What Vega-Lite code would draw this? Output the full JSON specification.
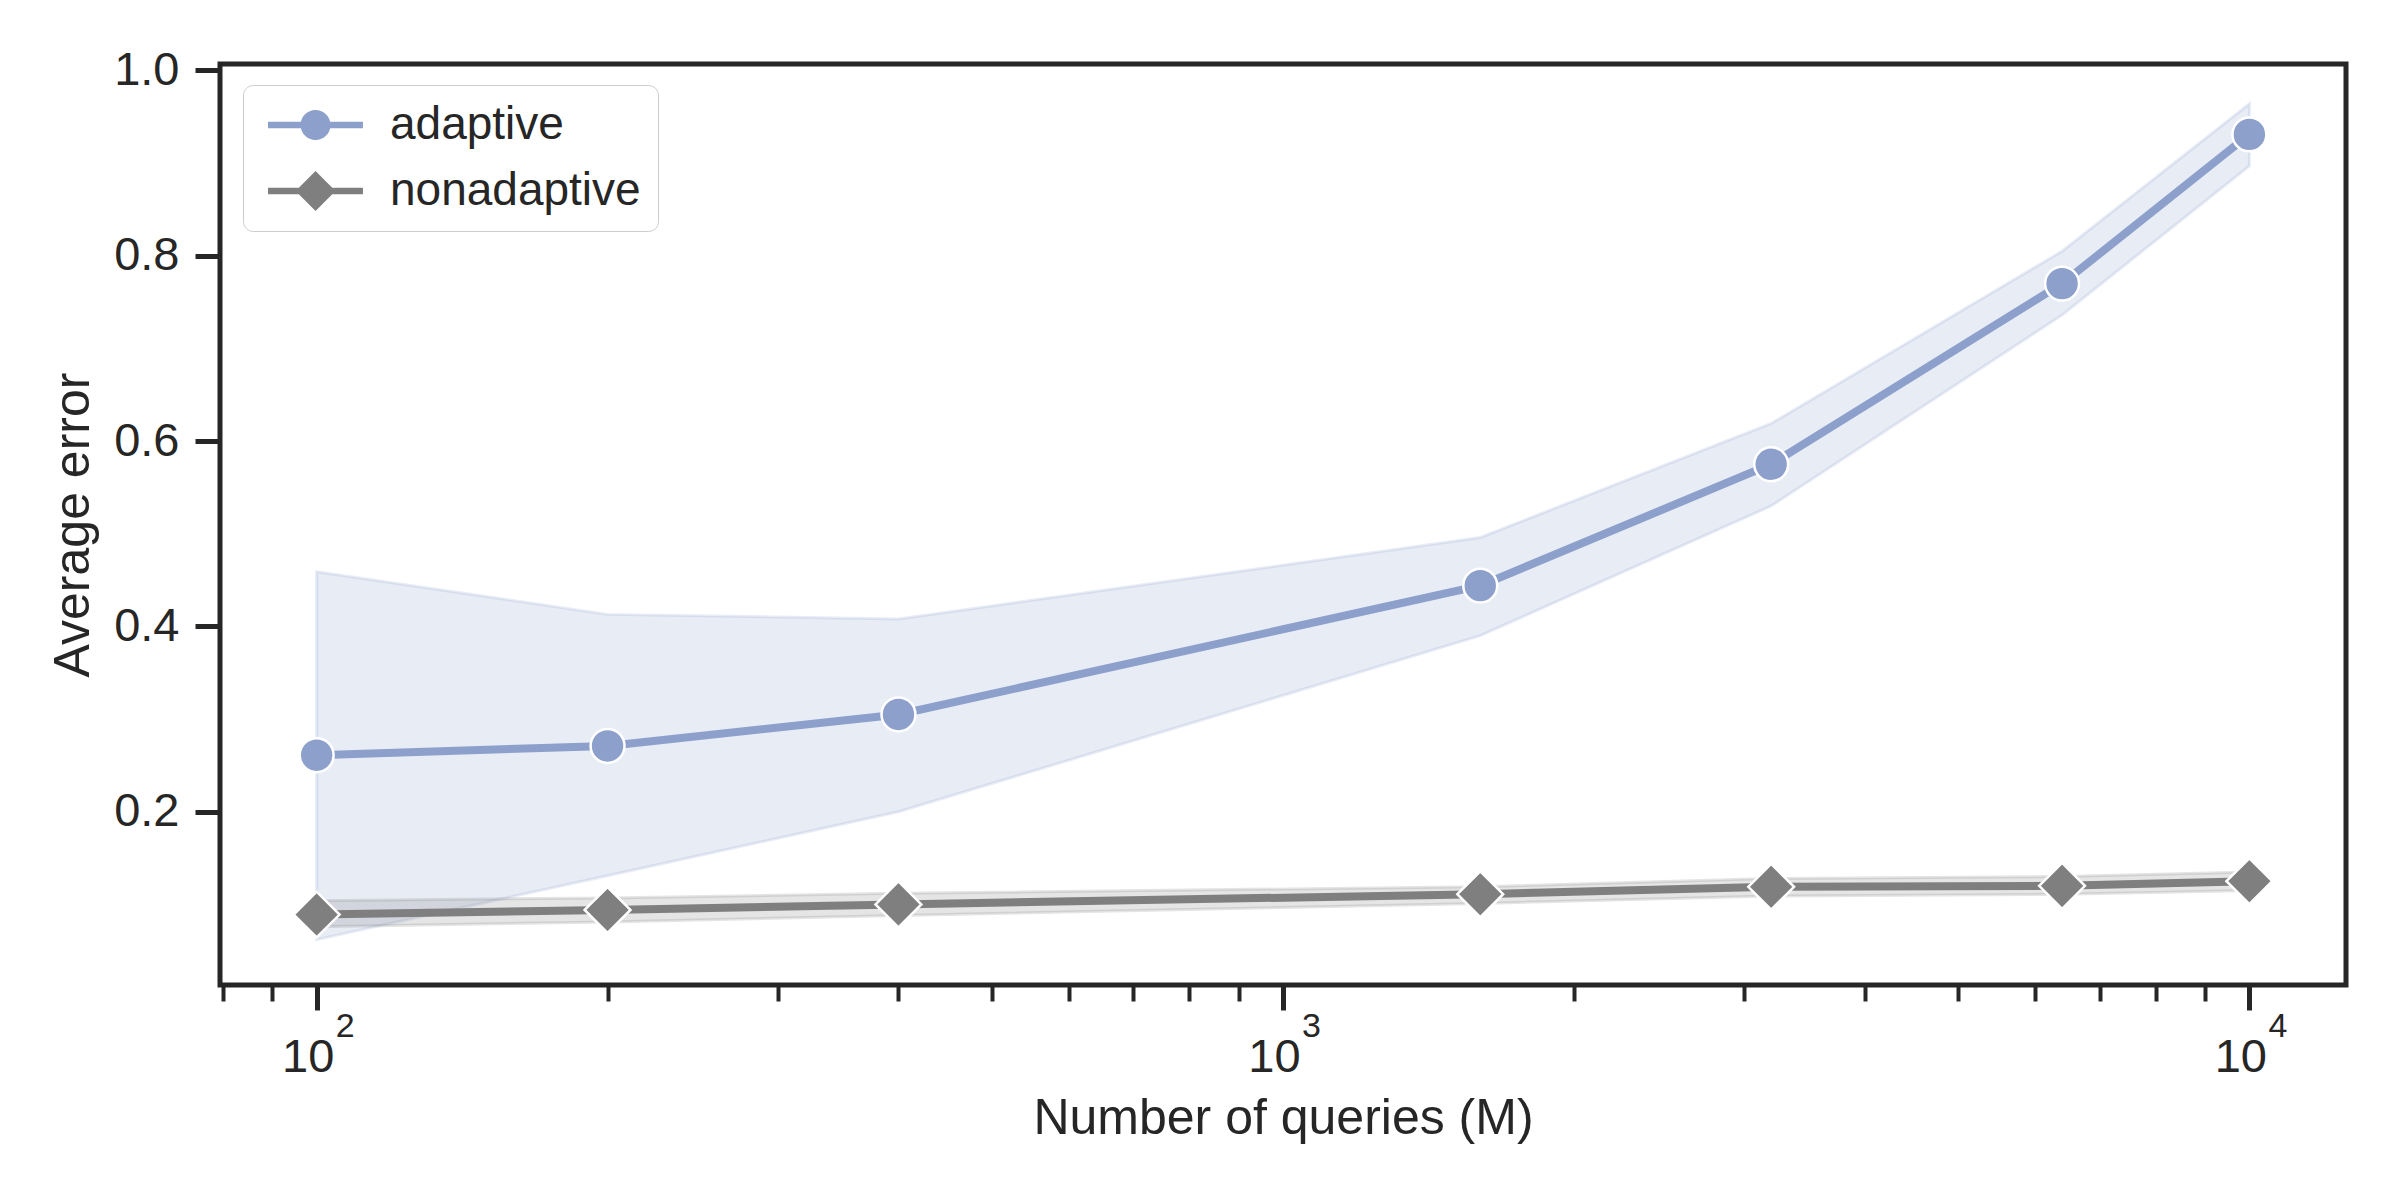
{
  "$schema": "https://vega.github.io/schema/vega-lite/v6.json",
  "width": 2126,
  "height": 921,
  "autosize": {"type": "none"},
  "padding": {"left": 220, "top": 64, "right": 54, "bottom": 215},
  "background": "white",
  "config": {
    "view": {"stroke": "#262626", "strokeWidth": 5},
    "font": "Liberation Sans",
    "axis": {"labelFont": "Liberation Sans", "titleFont": "Liberation Sans", "labelColor": "#262626", "titleColor": "#262626", "tickColor": "#262626", "grid": false, "domain": false, "titleFontWeight": "normal"}
  },
  "data": {
    "values": [
      {"series": "adaptive", "x": 100, "mean": 0.261, "lo": 0.062, "hi": 0.459},
      {"series": "adaptive", "x": 200, "mean": 0.271, "lo": 0.131, "hi": 0.413},
      {"series": "adaptive", "x": 400, "mean": 0.305, "lo": 0.200, "hi": 0.408},
      {"series": "adaptive", "x": 1600, "mean": 0.444, "lo": 0.390, "hi": 0.496},
      {"series": "adaptive", "x": 3200, "mean": 0.575, "lo": 0.530, "hi": 0.619},
      {"series": "adaptive", "x": 6400, "mean": 0.770, "lo": 0.736, "hi": 0.805},
      {"series": "adaptive", "x": 10000, "mean": 0.931, "lo": 0.897, "hi": 0.964},
      {"series": "nonadaptive", "x": 100, "mean": 0.089, "lo": 0.076, "hi": 0.104},
      {"series": "nonadaptive", "x": 200, "mean": 0.094, "lo": 0.081, "hi": 0.107},
      {"series": "nonadaptive", "x": 400, "mean": 0.100, "lo": 0.088, "hi": 0.112},
      {"series": "nonadaptive", "x": 1600, "mean": 0.111, "lo": 0.101, "hi": 0.119},
      {"series": "nonadaptive", "x": 3200, "mean": 0.119, "lo": 0.109, "hi": 0.128},
      {"series": "nonadaptive", "x": 6400, "mean": 0.120, "lo": 0.111, "hi": 0.130},
      {"series": "nonadaptive", "x": 10000, "mean": 0.125, "lo": 0.115, "hi": 0.135}
    ]
  },
  "resolve": {"axis": {"x": "independent", "y": "independent"}},
  "layer": [
    {
      "transform": [{"filter": "datum.series == 'adaptive'"}],
      "mark": {"type": "area", "fill": "#8da0cb", "fillOpacity": 0.2, "stroke": "#8da0cb", "strokeOpacity": 0.2, "strokeWidth": 3},
      "encoding": {
        "x": {
          "field": "x", "type": "quantitative",
          "scale": {"type": "log", "domain": [79.43, 12589], "nice": false},
          "axis": {
            "orient": "bottom",
            "title": "Number of queries (M)",
            "titleFontSize": 50,
            "titlePadding": 13,
            "values": [100, 1000, 10000],
            "labelExpr": "'10'",
            "tickSize": 25,
            "tickWidth": 5,
            "labelFontSize": 47,
            "labelOffset": -9,
            "labelPadding": 24,
            "labelOverlap": false,
            "labelFlush": false,
            "labelBound": false
          }
        },
        "y": {
          "field": "lo", "type": "quantitative",
          "scale": {"domain": [0.013, 1.007], "nice": false, "zero": false},
          "axis": {
            "orient": "left",
            "title": "Average error",
            "titleFontSize": 50,
            "titlePadding": 15,
            "values": [0.2, 0.4, 0.6, 0.8, 1.0],
            "format": ".1f",
            "tickSize": 25,
            "tickWidth": 5,
            "labelPadding": 16,
            "labelFontSize": 47
          }
        },
        "y2": {"field": "hi"}
      }
    },
    {
      "transform": [{"filter": "datum.series == 'nonadaptive'"}],
      "mark": {"type": "area", "fill": "#7f7f7f", "fillOpacity": 0.2, "stroke": "#7f7f7f", "strokeOpacity": 0.2, "strokeWidth": 3},
      "encoding": {
        "x": {"field": "x", "type": "quantitative", "axis": null},
        "y": {"field": "lo", "type": "quantitative", "axis": null},
        "y2": {"field": "hi"}
      }
    },
    {
      "transform": [{"filter": "datum.series == 'adaptive'"}],
      "mark": {"type": "line", "stroke": "#8da0cb", "strokeWidth": 8},
      "encoding": {
        "x": {
          "field": "x", "type": "quantitative",
          "axis": {
            "orient": "bottom",
            "title": null,
            "values": [100, 1000, 10000],
            "labelExpr": "datum.value == 100 ? '2' : (datum.value == 1000 ? '3' : '4')",
            "ticks": false,
            "labelFontSize": 34,
            "labelOffset": 28,
            "labelPadding": 24,
            "labelOverlap": false,
            "labelFlush": false,
            "labelBound": false
          }
        },
        "y": {"field": "mean", "type": "quantitative", "axis": null}
      }
    },
    {
      "transform": [{"filter": "datum.series == 'nonadaptive'"}],
      "mark": {"type": "line", "stroke": "#7f7f7f", "strokeWidth": 8},
      "encoding": {
        "x": {"field": "x", "type": "quantitative", "axis": null},
        "y": {"field": "mean", "type": "quantitative", "axis": null}
      }
    },
    {
      "transform": [{"filter": "datum.series == 'adaptive'"}],
      "mark": {"type": "point", "shape": "circle", "filled": true, "fill": "#8da0cb", "size": 1150, "stroke": "white", "strokeWidth": 2.5, "opacity": 1},
      "encoding": {
        "x": {
          "field": "x", "type": "quantitative",
          "axis": {
            "orient": "bottom",
            "title": null,
            "values": [80, 90, 200, 300, 400, 500, 600, 700, 800, 900, 2000, 3000, 4000, 5000, 6000, 7000, 8000, 9000],
            "labels": false,
            "tickSize": 16,
            "tickWidth": 4
          }
        },
        "y": {"field": "mean", "type": "quantitative", "axis": null}
      }
    },
    {
      "transform": [{"filter": "datum.series == 'nonadaptive'"}],
      "mark": {"type": "point", "shape": "diamond", "filled": true, "fill": "#7f7f7f", "size": 2100, "stroke": "white", "strokeWidth": 2.5, "opacity": 1},
      "encoding": {
        "x": {"field": "x", "type": "quantitative", "axis": null},
        "y": {"field": "mean", "type": "quantitative", "axis": null}
      }
    },
    {
      "transform": [{"filter": "datum.series == 'none'"}],
      "mark": {"type": "point", "filled": true, "size": 900, "strokeWidth": 0, "opacity": 1},
      "encoding": {
        "x": {"field": "x", "type": "quantitative", "axis": null},
        "y": {"field": "mean", "type": "quantitative", "axis": null},
        "fill": {
          "field": "series", "type": "nominal",
          "scale": {"domain": ["adaptive", "nonadaptive"], "range": ["#8da0cb", "#7f7f7f"]},
          "legend": {
            "title": null, "orient": "none", "legendX": 23, "legendY": 21,
            "labelFont": "Liberation Sans", "labelFontSize": 46, "labelColor": "#262626", "labelLimit": 500,
            "symbolSize": 900, "symbolStrokeWidth": 0,
            "labelOffset": 84, "padding": 17, "rowPadding": 20,
            "strokeColor": "#cccccc", "cornerRadius": 10, "fillColor": "white"
          }
        },
        "shape": {
          "field": "series", "type": "nominal",
          "scale": {"domain": ["adaptive", "nonadaptive"], "range": ["M-1,-0.21H5.33V0.21H-1ZM3.17,0A1,1,0,1,1,1.17,0A1,1,0,1,1,3.17,0Z", "M-1,-0.21H5.33V0.21H-1ZM2.17,-1.33L3.5,0L2.17,1.33L0.84,0Z"]},
          "legend": {
            "title": null, "orient": "none", "legendX": 23, "legendY": 21,
            "labelFont": "Liberation Sans", "labelFontSize": 46, "labelColor": "#262626", "labelLimit": 500,
            "symbolSize": 900, "symbolStrokeWidth": 0,
            "labelOffset": 84, "padding": 17, "rowPadding": 20,
            "strokeColor": "#cccccc", "cornerRadius": 10, "fillColor": "white"
          }
        }
      }
    }
  ]
}
